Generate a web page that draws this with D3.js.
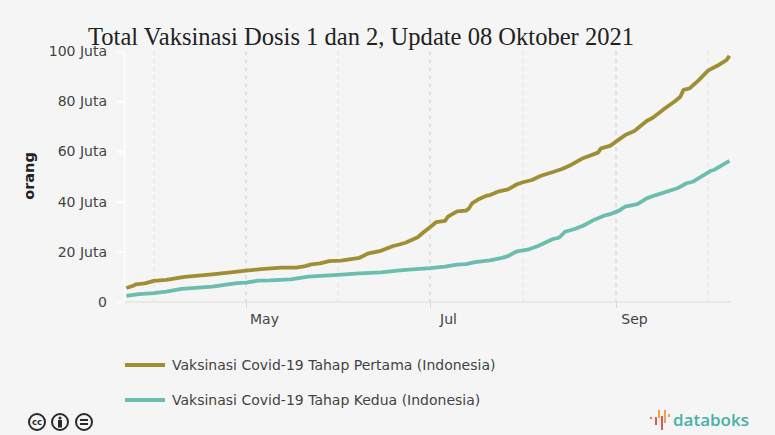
<!DOCTYPE html>
<html>
<head>
<meta charset="utf-8">
<script src="https://cdn.jsdelivr.net/npm/d3@7"></script>
<style>
	html, body { margin: 0; padding: 0; background: #f5f5f5; }
	svg { display: block; }
	text { font-family: "DejaVu Sans", sans-serif; fill: #444; }
</style>
</head>
<body>
<svg id="chart" width="775" height="435"></svg>
<script>
// values, in millions of people
var dosis1Dates = ['2021-03-23','2021-03-25','2021-03-26','2021-03-29','2021-04-01','2021-04-05','2021-04-11','2021-04-20','2021-04-26','2021-05-01',
	'2021-05-06','2021-05-13','2021-05-18','2021-05-21','2021-05-23','2021-05-26','2021-05-29','2021-06-02','2021-06-08','2021-06-11',
	'2021-06-15','2021-06-19','2021-06-21','2021-06-23','2021-06-27','2021-06-29','2021-07-01','2021-07-03','2021-07-06','2021-07-07',
	'2021-07-10','2021-07-13','2021-07-14','2021-07-15','2021-07-17','2021-07-20','2021-07-21','2021-07-24','2021-07-27','2021-07-30',
	'2021-08-01','2021-08-04','2021-08-07','2021-08-11','2021-08-14','2021-08-17','2021-08-21','2021-08-26','2021-08-27','2021-08-30',
	'2021-09-01','2021-09-04','2021-09-07','2021-09-09','2021-09-11','2021-09-13','2021-09-17','2021-09-20','2021-09-22','2021-09-23',
	'2021-09-25','2021-09-28','2021-10-01','2021-10-04','2021-10-07','2021-10-08'];
var dosis1Values = [5.6,6.4,7.0,7.4,8.4,8.8,10.0,11.0,11.8,12.5,
	13.1,13.7,13.7,14.3,15.0,15.4,16.3,16.5,17.6,19.4,
	20.4,22.3,22.9,23.6,25.8,27.9,29.8,31.8,32.3,34.0,
	36.1,36.4,37.3,39.3,40.8,42.4,42.6,44.1,44.9,46.9,
	47.7,48.6,50.3,51.8,53.0,54.6,57.3,59.5,61.2,62.2,
	63.9,66.5,68.1,70.1,72.1,73.4,77.2,79.8,81.8,84.5,
	85.1,88.4,92.2,94.1,96.4,98.1];

var dosis2Dates = ['2021-03-23','2021-03-27','2021-04-01','2021-04-05','2021-04-10','2021-04-20','2021-04-28','2021-05-01','2021-05-05','2021-05-09',
	'2021-05-16','2021-05-22','2021-06-01','2021-06-08','2021-06-15','2021-06-22','2021-07-01','2021-07-06','2021-07-10','2021-07-13',
	'2021-07-16','2021-07-21','2021-07-25','2021-07-27','2021-07-30','2021-08-03','2021-08-06','2021-08-11','2021-08-13','2021-08-15',
	'2021-08-18','2021-08-21','2021-08-25','2021-08-28','2021-08-30','2021-09-02','2021-09-04','2021-09-08','2021-09-11','2021-09-14',
	'2021-09-21','2021-09-24','2021-09-26','2021-10-02','2021-10-03','2021-10-08'];
var dosis2Values = [2.4,3.1,3.5,4.1,5.2,6.1,7.5,7.7,8.5,8.6,
	9.0,10.1,10.8,11.4,11.8,12.7,13.5,14.1,14.9,15.1,
	15.9,16.6,17.6,18.3,20.2,21.0,22.3,25.1,25.6,28.0,
	29.0,30.4,32.9,34.4,35.0,36.4,38.0,39.0,41.3,42.6,
	45.3,47.3,47.9,52.3,52.6,56.2];

var yTicks = [0,20,40,60,80,100];
var labelledMonths = ['2021-05-01','2021-07-01','2021-09-01'];
var otherMonths = ['2021-04-01','2021-06-01','2021-08-01','2021-10-01'];
var titleText = 'Total Vaksinasi Dosis 1 dan 2, Update 08 Oktober 2021';
var legendLabels = ['Vaksinasi Covid-19 Tahap Pertama (Indonesia)','Vaksinasi Covid-19 Tahap Kedua (Indonesia)'];
var colors = ['#a08e34','#6bbdac'];

var parseDate = d3.timeParse('%Y-%m-%d');
var monthName = d3.timeFormat('%b');

var svg = d3.select('#chart');
var plot = { left: 124, right: 731, top: 51, bottom: 302 };

// month starts sit evenly spaced in the picture, so the scale is pinned on each of them
var x = d3.scaleTime()
	.domain(otherMonths.concat(labelledMonths).sort().map(parseDate))
	.range([154,246,338,430,523,616,708]);
var y = d3.scaleLinear().domain([0,100]).range([plot.bottom, plot.top]);

// grid, lighter for the months without a label
function drawGrid(months, color) {
	svg.append('g').selectAll('line').data(months).enter().append('line')
		.attr('x1', function(d){ return x(parseDate(d)); })
		.attr('x2', function(d){ return x(parseDate(d)); })
		.attr('y1', plot.top)
		.attr('y2', plot.bottom)
		.attr('stroke', color)
		.attr('stroke-width', 1)
		.attr('stroke-dasharray', '4,4');
}
drawGrid(otherMonths, '#e4e4e4');
drawGrid(labelledMonths, '#d0d0d0');

// x axis
var xAxis = d3.axisBottom(x)
	.tickValues(labelledMonths.map(parseDate))
	.tickFormat(monthName)
	.tickSize(6)
	.tickSizeOuter(0);
var xG = svg.append('g').attr('transform','translate(0,'+plot.bottom+')').call(xAxis);
xG.select('.domain').remove();
xG.selectAll('.tick line').attr('stroke','#d8d8d8');
xG.selectAll('.tick text')
	.attr('dx', 18).attr('y', 12)
	.style('font-size','14px').style('font-family','"DejaVu Sans", sans-serif').style('fill','#444');
svg.append('line')
	.attr('x1', plot.left).attr('x2', plot.right)
	.attr('y1', plot.bottom).attr('y2', plot.bottom)
	.attr('stroke','#dcdcdc').attr('stroke-width',1);

// y axis
var yAxis = d3.axisLeft(y)
	.tickValues(yTicks)
	.tickFormat(function(d){ return d === 0 ? '0' : d + ' Juta'; })
	.tickSize(7)
	.tickSizeOuter(0);
var yG = svg.append('g').attr('transform','translate('+plot.left+',0)').call(yAxis);
yG.select('.domain').attr('stroke','#fff').attr('stroke-width',1.5);
yG.selectAll('.tick line').attr('stroke','#fff').attr('stroke-width',1.5);
yG.selectAll('.tick text')
	.attr('x', -17)
	.style('font-size','14px').style('font-family','"DejaVu Sans", sans-serif').style('fill','#444');

svg.append('text')
	.attr('transform','translate(34,176) rotate(-90)')
	.attr('text-anchor','middle')
	.style('font-size','14.5px').style('font-weight','bold').style('fill','#222')
	.text('orang');

// lines
var line = d3.line()
	.x(function(d){ return x(d.date); })
	.y(function(d){ return y(d.value); });

function toPoints(dates, values) {
	return dates.map(function(d,i){ return { date: parseDate(d), value: values[i] }; });
}
[toPoints(dosis1Dates,dosis1Values), toPoints(dosis2Dates,dosis2Values)].forEach(function(points,i){
	svg.append('path')
		.attr('d', line(points))
		.attr('fill','none')
		.attr('stroke', colors[i])
		.attr('stroke-width', 3.8)
		.attr('stroke-linejoin','round');
});

// title
svg.append('text')
	.attr('x', 88).attr('y', 45)
	.attr('textLength', 546)
	.attr('lengthAdjust','spacingAndGlyphs')
	.style('font-family','"Liberation Serif", serif')
	.style('font-size','26px').style('fill','#222')
	.text(titleText);

// legend
var legend = svg.append('g').selectAll('g').data(legendLabels).enter().append('g')
	.attr('transform', function(d,i){ return 'translate(125,'+(365 + i*35)+')'; });
legend.append('line')
	.attr('x1',0).attr('x2',40).attr('y1',0).attr('y2',0)
	.attr('stroke', function(d,i){ return colors[i]; })
	.attr('stroke-width',4);
legend.append('text')
	.attr('x',47).attr('y',5)
	.style('font-size','14px').style('fill','#444')
	.text(function(d){ return d; });

// cc badges
var badges = svg.append('g').attr('transform','translate(0,422)');
[37,60,84].forEach(function(cx){
	badges.append('circle').attr('cx',cx).attr('cy',0).attr('r',8)
		.attr('fill','#f5f5f5').attr('stroke','#2a2a2a').attr('stroke-width',2);
});
badges.append('text').attr('x',37).attr('y',3)
	.attr('text-anchor','middle')
	.style('font-size','8.5px').style('font-weight','bold').style('fill','#2a2a2a')
	.text('cc');
badges.append('circle').attr('cx',60).attr('cy',-4).attr('r',1.6).attr('fill','#2a2a2a');
badges.append('rect').attr('x',58).attr('y',-2).attr('width',4).attr('height',7.5).attr('fill','#2a2a2a');
badges.append('rect').attr('x',80).attr('y',-3).attr('width',8).attr('height',2).attr('fill','#2a2a2a');
badges.append('rect').attr('x',80).attr('y',1).attr('width',8).attr('height',2).attr('fill','#2a2a2a');

// databoks logo
var logoBars = [[650,417,2,2,'#e8704f'],[655,417,2,8,'#e2584f'],[658,410,2,8,'#eea24f'],[661,416,2,14,'#e2584f'],[664,410,2,13,'#eea24f'],[668,414,2,3,'#eea24f']];
var logo = svg.append('g');
logoBars.forEach(function(b){
	logo.append('rect').attr('x',b[0]).attr('y',b[1]).attr('width',b[2]).attr('height',b[3]).attr('fill',b[4]);
});
logo.append('text').attr('x',673).attr('y',426)
	.style('font-family','"Open Sans", sans-serif')
	.style('font-size','17px').style('font-weight','600').style('fill','#47b0a8')
	.text('databoks');
</script>
</body>
</html>
